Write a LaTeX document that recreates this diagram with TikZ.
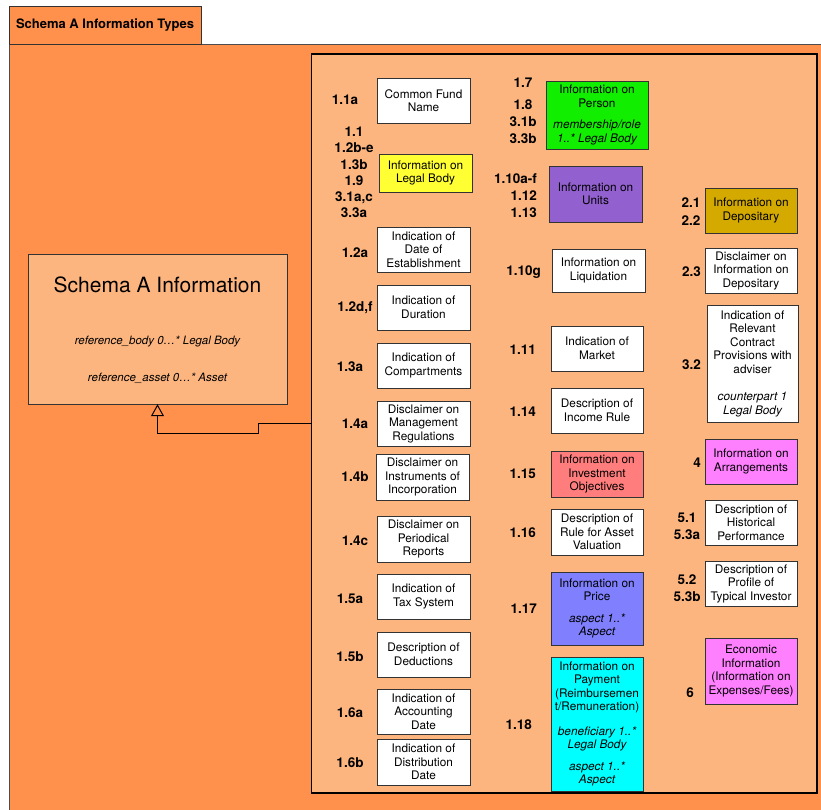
\documentclass[tikz,border=0pt]{standalone}
\usepackage{fontspec}
\setmainfont{TeX Gyre Heros}
\usetikzlibrary{arrows.meta}
\definecolor{pkgorange}{HTML}{FF914D}
\definecolor{innerorange}{HTML}{FDB57F}
\definecolor{legalyellow}{HTML}{FFFF33}
\definecolor{persongreen}{HTML}{11EE00}
\definecolor{unitspurple}{HTML}{9261CF}
\definecolor{depogold}{HTML}{D4AA00}
\definecolor{objsalmon}{HTML}{FF7D7D}
\definecolor{priceblue}{HTML}{8080FF}
\definecolor{paycyan}{HTML}{00FFFF}
\definecolor{arrmagenta}{HTML}{FF80FF}

\begin{document}
\begin{tikzpicture}[x=1pt,y=-1pt,
    box/.style={draw=black!80, fill=white, align=center, inner sep=1pt,
      minimum width=93pt, minimum height=45pt, font=\fontsize{11.8}{13.5}\selectfont},
    ref/.style={font=\fontsize{13.5}{17}\selectfont\bfseries, align=center, inner sep=0pt},
    refr/.style={ref, align=right, anchor=east},
    note/.style={font=\fontsize{11.5}{13}\selectfont\itshape, inner sep=0pt}]
  \clip (0,0) rectangle (821,809);
  \fill[white] (0,0) rectangle (821,809);
  \draw[draw=black!70, fill=pkgorange] (9,44) rectangle (840,830);
  \node[draw=black!80, fill=pkgorange, minimum width=192pt, minimum height=38pt,
    font=\fontsize{13}{15}\selectfont\bfseries] (tab) at (105,25) {Schema A Information Types};
  \draw[line width=1.3pt, fill=innerorange] (311.5,54) rectangle (817,793);
  \coordinate (attach) at (311.5,423);

  \node[draw=black!80, fill=innerorange, minimum width=259pt, minimum height=150pt] (schema) at (157.5,329) {};
  \node[font=\fontsize{21}{25}\selectfont] (schematitle) at (157.5,285) {Schema A Information};
  \node[note] (refbody) at (157.5,342) {reference\_body 0…* Legal Body};
  \node[note] (refasset) at (157.5,378) {reference\_asset 0…* Asset};
  \draw[-{Triangle[open,length=12pt,width=13pt]}, line width=1pt]
    (attach) -- ++(-53,0) -- ++(0,10) -| (schema.south);

  % first column
  \node[box] (fund) at (423.5,100.5) {Common Fund\\Name};
  \node[box, fill=legalyellow, minimum height=38pt] (legal) at (425.5,173) {Information on\\Legal Body};
  \node[box] (establish) at (423.5,249.5) {Indication of\\Date of\\Establishment};
  \node[box] (duration) at (423.5,307.5) {Indication of\\Duration};
  \node[box] (compart) at (423.5,365.5) {Indication of\\Compartments};
  \node[box] (mgmtreg) at (423.5,423.5) {Disclaimer on\\Management\\Regulations};
  \node[box, minimum height=46pt] (instrum) at (422.5,477) {Disclaimer on\\Instruments of\\Incorporation};
  \node[box, minimum height=46pt] (periodic) at (423.5,539) {Disclaimer on\\Periodical\\Reports};
  \node[box] (tax) at (423.5,596.5) {Indication of\\Tax System};
  \node[box] (deduct) at (423.5,654.5) {Description of\\Deductions};
  \node[box] (account) at (423.5,711.5) {Indication of\\Accounting\\Date};
  \node[box, minimum height=46pt] (distrib) at (423.5,762) {Indication of\\Distribution\\Date};

  \node[ref] (r-fund) at (345,100) {1.1a};
  \node[ref, font=\fontsize{13.5}{16.2}\selectfont\bfseries] (r-legal) at (354,172.5) {1.1\\1.2b-e\\1.3b\\1.9\\3.1a,c\\3.3a};
  \node[ref] (r-establish) at (355,253) {1.2a};
  \node[ref] (r-duration) at (355,308) {1.2d,f};
  \node[ref] (r-compart) at (350,367) {1.3a};
  \node[ref] (r-mgmtreg) at (355,424) {1.4a};
  \node[ref] (r-instrum) at (355,477) {1.4b};
  \node[ref] (r-periodic) at (355,541) {1.4c};
  \node[ref] (r-tax) at (350,599) {1.5a};
  \node[ref] (r-deduct) at (350,657) {1.5b};
  \node[ref] (r-account) at (350,713) {1.6a};
  \node[ref] (r-distrib) at (350,763) {1.6b};

  % second column
  \node[box, fill=persongreen, minimum width=102pt, minimum height=68pt] (person) at (597,115)
    {Information on\\Person\\[8pt]\itshape membership/role\\\itshape 1..* Legal Body};
  \node[box, fill=unitspurple, minimum height=56pt] (units) at (595.5,194) {Information on\\Units};
  \node[box, minimum height=43pt] (liquid) at (598.5,270.5) {Information on\\Liquidation};
  \node[box, minimum width=92pt] (market) at (597,348.5) {Indication of\\Market};
  \node[box, minimum width=92pt] (income) at (597,410.5) {Description of\\Income Rule};
  \node[box, fill=objsalmon, minimum width=92pt, minimum height=46pt] (objectives) at (597,474) {Information on\\Investment\\Objectives};
  \node[box, minimum width=92pt, minimum height=46pt] (assetval) at (597,532) {Description of\\Rule for Asset\\Valuation};
  \node[box, fill=priceblue, minimum width=92pt, minimum height=73pt] (price) at (597,608.5)
    {Information on\\Price\\[8pt]\itshape aspect 1..*\\\itshape Aspect};
  \node[box, fill=paycyan, minimum width=92pt, minimum height=134pt] (payment) at (597,724)
    {Information on\\Payment\\(Reimbursemen\\t/Remuneration)\\[11pt]\itshape beneficiary 1..*\\\itshape Legal Body\\[8pt]\itshape aspect 1..*\\\itshape Aspect};

  \node[ref] (r-person-a) at (523,83) {1.7};
  \node[ref] (r-person-b) at (523,121.5) {1.8\\3.1b\\3.3b};
  \node[refr] (r-units) at (537,195.5) {1.10a-f\\1.12\\1.13};
  \node[refr] (r-liquid) at (541,272) {1.10g};
  \node[refr] (r-market) at (536,350) {1.11};
  \node[refr] (r-income) at (536,412) {1.14};
  \node[refr] (r-objectives) at (536,474) {1.15};
  \node[refr] (r-assetval) at (536,533) {1.16};
  \node[refr] (r-price) at (537,609) {1.17};
  \node[refr] (r-payment) at (532,725) {1.18};

  % third column
  \node[box, fill=depogold, minimum width=92pt] (depositary) at (751,210.5) {Information on\\Depositary};
  \node[box, minimum width=92pt] (discldep) at (751,270.5) {Disclaimer on\\Information on\\Depositary};
  \node[box, minimum width=91pt, minimum height=117pt] (contract) at (752.5,363.5)
    {Indication of\\Relevant\\Contract\\Provisions with\\adviser\\[14pt]\itshape counterpart 1\\\itshape Legal Body};
  \node[box, fill=arrmagenta, minimum width=92pt] (arrange) at (751,461.5) {Information on\\Arrangements};
  \node[box, minimum width=92pt] (historic) at (751,522.5) {Description of\\Historical\\Performance};
  \node[box, minimum width=92pt] (profile) at (751,583.5) {Description of\\Profile of\\Typical Investor};
  \node[box, fill=arrmagenta, minimum width=92pt, minimum height=66pt] (economic) at (751,671)
    {Economic\\Information\\(Information on\\Expenses/Fees)};

  \node[ref] (r-depositary) at (691,212) {2.1\\[1pt]2.2};
  \node[refr] (r-discldep) at (701,272) {2.3};
  \node[refr] (r-contract) at (701,365) {3.2};
  \node[refr] (r-arrange) at (701,463) {4};
  \node[ref] (r-historic) at (687,526.5) {5.1\\5.3a};
  \node[ref] (r-profile) at (687,588) {5.2\\5.3b};
  \node[ref] (r-economic) at (690,693) {6};
\end{tikzpicture}
\end{document}
